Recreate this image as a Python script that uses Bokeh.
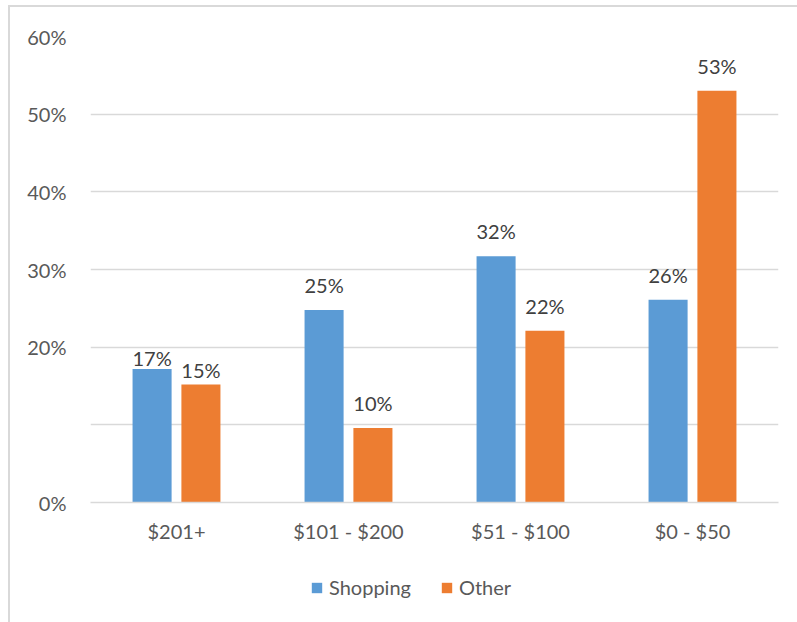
from bokeh.plotting import figure
from bokeh.layouts import column
from bokeh.models import ColumnDataSource, FactorRange, FixedTicker, Legend, LegendItem, Range1d
from bokeh.transform import dodge
from bokeh.embed import file_html
from bokeh.resources import INLINE

# ---- data ----
categories = ["$201+", "$101 - $200", "$51 - $100", "$0 - $50"]
shopping = [17.2, 24.8, 31.7, 26.1]
other = [15.2, 9.6, 22.1, 53.0]
shopping_labels = ["17%", "25%", "32%", "26%"]
other_labels = ["15%", "10%", "22%", "53%"]
series_names = ["Shopping", "Other"]
y_ticks = [0, 10, 20, 30, 40, 50, 60]
y_tick_labels = ["0%", "", "20%", "30%", "40%", "50%", "60%"]

# label offsets (screen px above the bar top)
shop_off = [-11, -25, -25, -25]
other_off = [-14, -25, -25, -25]

FONT = "Lato"
BLUE = "#5B9BD5"
ORANGE = "#ED7D31"
TICK_COLOR = "#595959"

src = ColumnDataSource(dict(cat=categories, shop=shopping, oth=other,
                            shop_lbl=shopping_labels, oth_lbl=other_labels,
                            shop_off=shop_off, oth_off=other_off))

p = figure(width=787, height=550, x_range=FactorRange(*categories),
           y_range=Range1d(0, 60), output_backend="svg", toolbar_location=None,
           min_border_left=80, min_border_right=19, min_border_top=29,
           min_border_bottom=55)
p.outline_line_color = None

bw = 0.227
dx = 0.142
p.vbar(x=dodge("cat", -dx, range=p.x_range), top="shop", width=bw,
       source=src, fill_color=BLUE, line_color=None)
p.vbar(x=dodge("cat", dx, range=p.x_range), top="oth", width=bw,
       source=src, fill_color=ORANGE, line_color=None)

p.text(x=dodge("cat", -dx, range=p.x_range), y="shop", text="shop_lbl",
       y_offset="shop_off", text_align="center", text_baseline="alphabetic",
       text_font={"value": FONT}, text_font_size="20px", text_color="#404040",
       source=src)
p.text(x=dodge("cat", dx, range=p.x_range), y="oth", text="oth_lbl",
       y_offset="oth_off", text_align="center", text_baseline="alphabetic",
       text_font={"value": FONT}, text_font_size="20px", text_color="#404040",
       source=src)

# grid
p.xgrid.grid_line_color = None
p.ygrid.ticker = FixedTicker(ticks=y_ticks)
p.ygrid.grid_line_color = "#d9d9d9"
p.ygrid.grid_line_width = 1.5

# y axis
p.yaxis.ticker = FixedTicker(ticks=y_ticks)
p.yaxis.major_label_overrides = {t: l for t, l in zip(y_ticks, y_tick_labels)}
p.yaxis.axis_line_color = None
p.yaxis.major_tick_line_color = None
p.yaxis.minor_tick_line_color = None
p.yaxis.major_label_standoff = 18
p.yaxis.major_label_text_font = FONT
p.yaxis.major_label_text_font_size = "20px"
p.yaxis.major_label_text_color = TICK_COLOR

# x axis
p.xaxis.axis_line_color = "#d9d9d9"
p.xaxis.axis_line_width = 1.5
p.xaxis.major_tick_line_color = None
p.xaxis.minor_tick_line_color = None
p.xaxis.major_label_standoff = 10
p.xaxis.major_label_text_font = FONT
p.xaxis.major_label_text_font_size = "20px"
p.xaxis.major_label_text_color = TICK_COLOR

# ---- legend strip below the chart ----
lf = figure(width=787, height=65, x_range=Range1d(0, 1), y_range=Range1d(0, 1),
            output_backend="svg", toolbar_location=None,
            min_border=0, min_border_left=0, min_border_right=0,
            min_border_top=0, min_border_bottom=0)
lf.axis.visible = False
lf.grid.visible = False
lf.outline_line_color = None
# zero-height bars: only their legend swatches show
lr1 = lf.vbar(x=[0.5], top=[0], bottom=[0], width=0.1, fill_color=BLUE, line_color=None)
lr2 = lf.vbar(x=[0.5], top=[0], bottom=[0], width=0.1, fill_color=ORANGE, line_color=None)
legend = Legend(items=[LegendItem(label=series_names[0], renderers=[lr1]),
                       LegendItem(label=series_names[1], renderers=[lr2])],
                orientation="horizontal", location=(220, 23),
                glyph_width=13, glyph_height=13, label_standoff=6, spacing=29,
                label_text_font=FONT, label_text_font_size="20px",
                label_text_color=TICK_COLOR, border_line_color=None,
                background_fill_alpha=0, padding=0, margin=0)
lf.add_layout(legend, "center")

layout = column(p, lf, spacing=0)
layout.styles = {"border-left": "2px solid #d9d9d9", "border-top": "2px solid #d9d9d9",
                 "margin-left": "8px", "margin-top": "5px"}

open("out.html", "w").write(file_html(layout, INLINE))
